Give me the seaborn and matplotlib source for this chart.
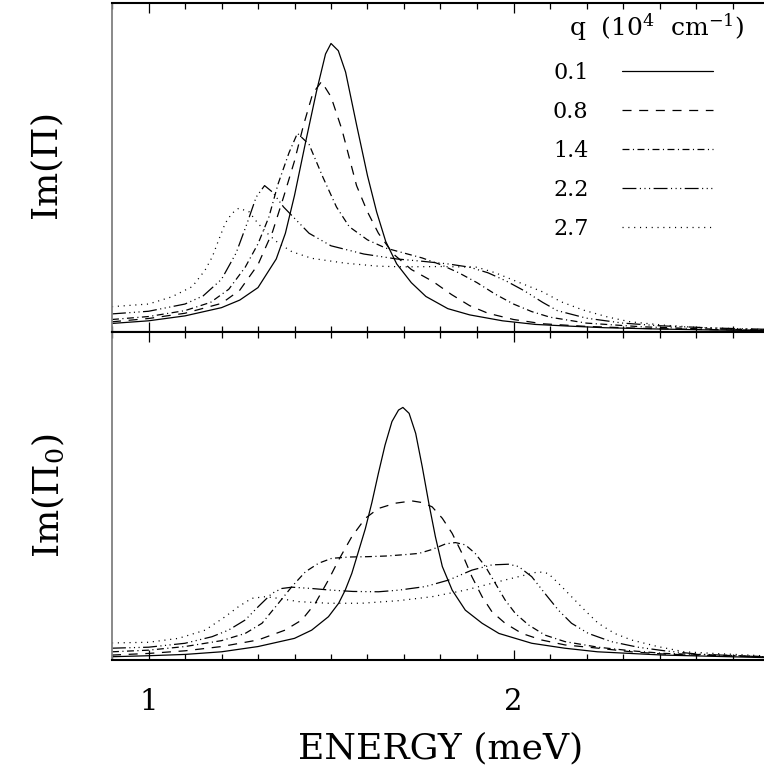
import matplotlib
matplotlib.use("Agg")
import matplotlib.pyplot as plt
from matplotlib.ticker import MultipleLocator, FixedLocator
import seaborn as sns
import pandas as pd

# wave vectors (10^4 cm^-1), one curve per value
q_labels = ["0.1", "0.8", "1.4", "2.2", "2.7"]

# ---- upper panel: Im(Pi) ----
top_e_01 = [0.9, 1.0, 1.1, 1.2, 1.25, 1.3, 1.35, 1.375, 1.4, 1.43, 1.46, 1.485, 1.5, 1.52, 1.54,
            1.57, 1.6, 1.625, 1.65, 1.68, 1.72, 1.76, 1.82, 1.88, 1.97, 2.06, 2.15, 2.25, 2.4, 2.55, 2.7]
top_v_01 = [0.026, 0.034, 0.049, 0.074, 0.097, 0.135, 0.222, 0.300, 0.415, 0.575, 0.73, 0.845, 0.877, 0.855, 0.79,
            0.63, 0.475, 0.365, 0.275, 0.207, 0.150, 0.108, 0.071, 0.052, 0.034, 0.023, 0.018, 0.013, 0.009, 0.006, 0.004]

top_e_08 = [0.9, 1.0, 1.1, 1.2, 1.25, 1.3, 1.34, 1.37, 1.4, 1.425, 1.45, 1.474, 1.5, 1.53, 1.57,
            1.6, 1.63, 1.67, 1.72, 1.78, 1.83, 1.88, 1.93, 2.0, 2.08, 2.2, 2.35, 2.5, 2.7]
top_v_08 = [0.031, 0.041, 0.057, 0.087, 0.127, 0.205, 0.305, 0.41, 0.52, 0.63, 0.725, 0.761, 0.715, 0.615, 0.445,
            0.365, 0.30, 0.238, 0.19, 0.153, 0.114, 0.080, 0.057, 0.038, 0.025, 0.017, 0.011, 0.008, 0.005]

top_e_14 = [0.9, 1.0, 1.1, 1.17, 1.22, 1.265, 1.3, 1.33, 1.355, 1.385, 1.408, 1.44, 1.478, 1.515, 1.55,
            1.6, 1.65, 1.7, 1.75, 1.8, 1.85, 1.9, 1.95, 2.0, 2.05, 2.1, 2.2, 2.35, 2.5, 2.7]
top_v_14 = [0.038, 0.047, 0.065, 0.09, 0.13, 0.197, 0.268, 0.35, 0.45, 0.545, 0.604, 0.57, 0.47, 0.38, 0.32,
            0.28, 0.255, 0.24, 0.225, 0.205, 0.18, 0.15, 0.115, 0.085, 0.062, 0.045, 0.027, 0.016, 0.010, 0.006]

top_e_22 = [0.9, 1.0, 1.1, 1.15, 1.2, 1.24, 1.27, 1.295, 1.318, 1.34, 1.37, 1.405, 1.44, 1.5, 1.59,
            1.68, 1.75, 1.82, 1.88, 1.93, 1.98, 2.03, 2.08, 2.12, 2.2, 2.3, 2.4, 2.55, 2.7]
top_v_22 = [0.055, 0.063, 0.085, 0.11, 0.16, 0.24, 0.33, 0.41, 0.445, 0.425, 0.38, 0.34, 0.30, 0.262, 0.237,
            0.222, 0.215, 0.207, 0.197, 0.18, 0.155, 0.125, 0.09, 0.065, 0.042, 0.027, 0.019, 0.012, 0.008]

top_e_27 = [0.9, 1.0, 1.064, 1.12, 1.155, 1.175, 1.192, 1.21, 1.228, 1.247, 1.275, 1.3, 1.33, 1.356, 1.393,
            1.447, 1.54, 1.63, 1.7, 1.8, 1.9, 1.95, 2.01, 2.08, 2.13, 2.19, 2.26, 2.32, 2.41, 2.5, 2.7]
top_v_27 = [0.077, 0.085, 0.107, 0.138, 0.188, 0.229, 0.279, 0.33, 0.36, 0.376, 0.366, 0.33, 0.295, 0.27, 0.244,
            0.224, 0.209, 0.2, 0.198, 0.199, 0.197, 0.18, 0.153, 0.122, 0.092, 0.067, 0.045, 0.031, 0.021, 0.014, 0.007]

# ---- lower panel: Im(Pi_0) ----
bot_e_01 = [0.9, 1.0, 1.1, 1.2, 1.3, 1.4, 1.447, 1.493, 1.521, 1.539, 1.557, 1.575, 1.594, 1.612, 1.63, 1.648, 1.667,
            1.685, 1.697, 1.714, 1.732, 1.75, 1.768, 1.786, 1.805, 1.832, 1.868, 1.914, 1.96, 2.05, 2.14, 2.23, 2.41, 2.7]
bot_v_01 = [0.010, 0.013, 0.017, 0.025, 0.041, 0.066, 0.091, 0.132, 0.173, 0.213, 0.264, 0.33, 0.40, 0.48, 0.57, 0.655, 0.727,
            0.762, 0.770, 0.752, 0.691, 0.589, 0.478, 0.376, 0.285, 0.213, 0.152, 0.112, 0.081, 0.051, 0.036, 0.025, 0.015, 0.007]

bot_e_08 = [0.9, 1.0, 1.1, 1.2, 1.3, 1.374, 1.42, 1.457, 1.493, 1.521, 1.557, 1.594, 1.63, 1.676, 1.722, 1.75,
            1.777, 1.805, 1.832, 1.859, 1.886, 1.914, 1.941, 1.977, 2.023, 2.077, 2.141, 2.232, 2.323, 2.414, 2.7]
bot_v_08 = [0.015, 0.02, 0.028, 0.041, 0.061, 0.091, 0.122, 0.173, 0.244, 0.305, 0.376, 0.432, 0.462, 0.478, 0.485, 0.48,
            0.467, 0.432, 0.386, 0.325, 0.254, 0.193, 0.147, 0.112, 0.081, 0.061, 0.046, 0.036, 0.025, 0.018, 0.009]

bot_e_14 = [0.9, 1.0, 1.1, 1.2, 1.265, 1.311, 1.356, 1.393, 1.43, 1.466, 1.502, 1.55, 1.6, 1.65, 1.7, 1.741,
            1.777, 1.814, 1.841, 1.868, 1.895, 1.923, 1.95, 1.977, 2.005, 2.041, 2.086, 2.141, 2.232, 2.323, 2.414, 2.7]
bot_v_14 = [0.025, 0.03, 0.041, 0.059, 0.081, 0.112, 0.173, 0.224, 0.269, 0.295, 0.31, 0.314, 0.315, 0.317, 0.321, 0.325,
            0.337, 0.354, 0.358, 0.351, 0.325, 0.285, 0.234, 0.183, 0.142, 0.107, 0.076, 0.056, 0.039, 0.028, 0.02, 0.01]

bot_e_22 = [0.9, 1.0, 1.1, 1.174, 1.219, 1.265, 1.301, 1.338, 1.365, 1.393, 1.447, 1.5, 1.56, 1.63, 1.686, 1.759,
            1.823, 1.886, 1.941, 1.986, 2.014, 2.05, 2.086, 2.123, 2.159, 2.205, 2.268, 2.341, 2.414, 2.505, 2.7]
bot_v_22 = [0.036, 0.039, 0.051, 0.071, 0.091, 0.122, 0.163, 0.203, 0.218, 0.222, 0.218, 0.213, 0.209, 0.208, 0.213, 0.224,
            0.244, 0.274, 0.29, 0.292, 0.285, 0.254, 0.203, 0.152, 0.112, 0.081, 0.056, 0.039, 0.028, 0.018, 0.009]

bot_e_27 = [0.9, 1.0, 1.082, 1.155, 1.21, 1.247, 1.283, 1.32, 1.356, 1.411, 1.493, 1.584, 1.686, 1.777, 1.868,
            1.959, 2.032, 2.068, 2.095, 2.123, 2.159, 2.195, 2.232, 2.277, 2.323, 2.395, 2.468, 2.55, 2.7]
bot_v_27 = [0.052, 0.054, 0.066, 0.091, 0.132, 0.163, 0.188, 0.193, 0.188, 0.178, 0.173, 0.173, 0.181, 0.193, 0.213,
            0.239, 0.259, 0.269, 0.264, 0.234, 0.193, 0.152, 0.112, 0.081, 0.061, 0.041, 0.025, 0.02, 0.012]


def long_form(energies, values):
    frames = [pd.DataFrame({"energy": e, "value": v, "q": q})
              for q, e, v in zip(q_labels, energies, values)]
    return pd.concat(frames, ignore_index=True)


df_top = long_form([top_e_01, top_e_08, top_e_14, top_e_22, top_e_27],
                   [top_v_01, top_v_08, top_v_14, top_v_22, top_v_27])
df_bot = long_form([bot_e_01, bot_e_08, bot_e_14, bot_e_22, bot_e_27],
                   [bot_v_01, bot_v_08, bot_v_14, bot_v_22, bot_v_27])

sns.set_theme(style="white", rc={"text.color": "black", "axes.labelcolor": "black",
                                 "xtick.color": "black", "ytick.color": "black"})
plt.rcParams["font.family"] = ["DejaVu Serif"]
plt.rcParams["mathtext.fontset"] = "dejavuserif"
plt.rcParams["lines.scale_dashes"] = False

# solid, dashed, dash-dot, dash-dot-dot-dot, dotted (lengths in points)
dash_map = {
    "0.1": "",
    "0.8": (6.5, 5.5),
    "1.4": (5, 2.5, 0.8, 2.5),
    "2.2": (10, 2.5, 0.8, 2.5, 0.8, 2.5, 0.8, 2.5),
    "2.7": (0.8, 3.4),
}

W, H = 764, 782
fig = plt.figure(figsize=(W / 100, H / 100), dpi=100)
ax_top = fig.add_axes([112 / W, (H - 332) / H, 657 / W, 329 / H])
ax_bot = fig.add_axes([112 / W, (H - 660) / H, 657 / W, 328 / H])

for ax, df in ((ax_top, df_top), (ax_bot, df_bot)):
    sns.lineplot(data=df, x="energy", y="value", style="q", style_order=q_labels,
                 dashes=dash_map, color="black", linewidth=0.9, estimator=None,
                 legend=False, ax=ax)
    ax.set_xlim(0.9, 2.7)
    ax.set_ylim(0, 1)
    ax.set_yticks([])
    ax.xaxis.set_major_locator(FixedLocator([1, 2]))
    ax.xaxis.set_minor_locator(MultipleLocator(0.1))
    ax.tick_params(axis="x", which="both", direction="in", top=True, bottom=True,
                   color="black", width=0.9)
    ax.tick_params(axis="x", which="major", length=7)
    ax.tick_params(axis="x", which="minor", length=4)
    for side in ("top", "bottom"):
        ax.spines[side].set_color("black")
        ax.spines[side].set_linewidth(1.5)
    ax.spines["left"].set_color("#808080")
    ax.spines["left"].set_linewidth(1.3)
    ax.spines["right"].set_visible(False)
    ax.set_xlabel("")

ax_top.tick_params(axis="x", labelbottom=False)
ax_top.set_ylabel(r"Im($\Pi$)", fontsize=26, labelpad=33)
ax_bot.set_ylabel(r"Im($\Pi_0$)", fontsize=26, labelpad=33)

ax_bot.set_xticks([1, 2])
ax_bot.set_xticklabels(["1", "2"])
ax_bot.tick_params(axis="x", which="major", labelsize=21, pad=20)
ax_bot.set_xlabel("ENERGY (meV)", fontsize=26, labelpad=11)

ax_top.legend(handles=ax_top.lines[:5], labels=q_labels, loc="upper left",
              bbox_to_anchor=(553 / W, 1 - 62 / H), bbox_transform=fig.transFigure,
              frameon=False, markerfirst=False, fontsize=16, handlelength=4.1,
              handletextpad=1.5, labelspacing=0.76, borderpad=0, borderaxespad=0)
fig.text(657 / W, 1 - 27 / H, r"q  (10$^4$  cm$^{-1}$)", ha="center", va="center", fontsize=18)

fig.savefig("out.png", dpi=100)
plt.close(fig)
